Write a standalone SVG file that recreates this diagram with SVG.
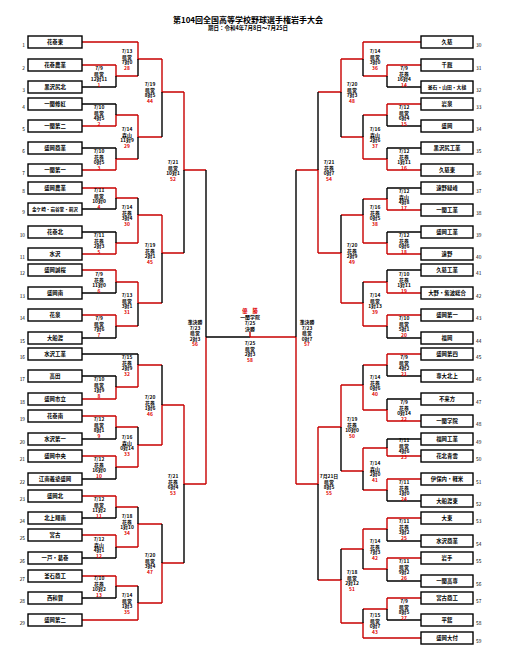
<svg xmlns="http://www.w3.org/2000/svg" width="509" height="662" viewBox="0 0 509 662">
<style>
text{font-family:"Noto Sans CJK JP","Noto Sans CJK SC",sans-serif;font-weight:bold;fill:#000}
.title{font-size:8px;text-anchor:middle}
.sub{font-size:5.5px;text-anchor:middle}
.box{fill:#fff;stroke:#000;stroke-width:1.4}
.tn{font-size:5.4px;text-anchor:middle}
.nl{font-size:4.8px;text-anchor:end;font-weight:normal}
.nr{font-size:4.8px;text-anchor:start;font-weight:normal}
.lb{font-size:4.9px;text-anchor:middle}
.gn{fill:#e00000}
.r{stroke:#c80000;stroke-width:1.4;fill:none}
.k{stroke:#000;stroke-width:1.4;fill:none}
</style>
<rect width="509" height="662" fill="#fff"/>
<text class="title" x="248" y="23">第104回全国高等学校野球選手権岩手大会</text>
<text class="sub" x="248" y="30">期日：令和4年7月8日～7月25日</text>

<g id="connectors">
<path class="r" d="M82 42H138M82 65H116M82 126H116M82 170H116M82 188H116M82 254H116M82 270H116M82 315H116M82 399H116M82 416H116M82 456H116M82 496H116M82 535H116M82 576H116M82 620H138"/>
<path class="k" d="M82 87H116M82 104H116M82 148H116M82 209H116M82 232H116M82 293H116M82 338H116M82 354H138M82 376H116M82 439H116M82 479H116M82 518H116M82 558H116M82 598H116"/>
<path class="r" d="M116 65V76H138M138 42V59H162M116 126V115H138M116 170V159H138M138 115V137H162M162 59V92H184M116 188V198H138M116 254V243H138M138 243V215H162M116 270V282H138M116 315V326H138M138 282V303H162M162 215V253H184M116 399V387H138M138 387V365H162M116 416V427H138M116 456V467H138M138 467V445H162M162 445V405H184M116 496V507H138M116 535V547H138M138 547V524H162M116 576V586H138M138 620V603H162M162 603V563H184M184 92V170H206M184 405V484H206M206 484V337"/>
<path class="k" d="M116 76V87M138 59V76M116 115V104M116 159V148M138 137V159M162 92V137M116 198V209M116 243V232M138 215V198M116 282V293M116 326V338M138 303V326M162 253V303M116 387V376M138 365V354M116 427V439M116 467V479M138 445V427M162 405V365M116 507V518M116 547V558M138 524V507M116 586V598M138 603V586M162 563V524M184 170V253M184 484V563M206 337V170M206 337H250"/>
<path class="r" d="M250 337H296M250 332V337"/>
<path class="r" d="M421 42H363M421 65H387M421 104H387M421 170H387M421 210H387M421 254H387M421 293H387M421 315H387M421 354H387M421 421H387M421 456H387M421 479H387M421 518H387M421 558H387M421 598H387M421 638H363"/>
<path class="k" d="M421 87H387M421 126H387M421 148H387M421 188H387M421 232H387M421 270H387M421 338H387M421 376H387M421 399H387M421 439H387M421 501H387M421 541H387M421 581H387M421 620H387"/>
<path class="r" d="M387 65V76H363M363 42V59H341M387 104V115H363M387 170V159H363M363 159V137H341M341 59V92H318M387 210V199H363M387 254V243H363M363 243V215H341M387 293V282H363M387 315V326H363M363 326V303H341M341 303V253H318M387 354V365H363M387 421V410H363M363 410V385H341M387 456V448H363M387 479V490H363M363 448V471H341M341 385V427H318M387 518V529H363M387 558V569H363M363 529V549H341M387 598V609H363M363 638V623H341M341 623V580H318M318 253V170H296M318 427V484H296M296 484V337"/>
<path class="k" d="M387 76V87M363 59V76M387 115V126M387 159V148M363 137V115M341 92V137M387 199V188M387 243V232M363 215V199M387 282V270M387 326V338M363 303V282M341 253V215M387 365V376M387 410V399M363 385V365M387 448V439M387 490V501M363 471V490M341 427V471M387 529V541M387 569V581M363 549V569M387 609V620M363 623V609M341 580V549M318 170V92M318 484V580M296 337V170"/>
</g>

<g id="teams-left">
<g id="t1"><rect class="box" x="28" y="36" width="54" height="12"/><text class="tn" x="55" y="44">花巻東</text><text class="nl" x="25" y="47">1</text></g>
<g id="t2"><rect class="box" x="28" y="59" width="54" height="12"/><text class="tn" x="55" y="67">花巻農業</text><text class="nl" x="25" y="70">2</text></g>
<g id="t3"><rect class="box" x="28" y="81" width="54" height="12"/><text class="tn" x="55" y="89">黒沢尻北</text><text class="nl" x="25" y="92">3</text></g>
<g id="t4"><rect class="box" x="28" y="98" width="54" height="12"/><text class="tn" x="55" y="106">一関修紅</text><text class="nl" x="25" y="109">4</text></g>
<g id="t5"><rect class="box" x="28" y="120" width="54" height="12"/><text class="tn" x="55" y="128">一関第二</text><text class="nl" x="25" y="131">5</text></g>
<g id="t6"><rect class="box" x="28" y="142" width="54" height="12"/><text class="tn" x="55" y="150">盛岡商業</text><text class="nl" x="25" y="153">6</text></g>
<g id="t7"><rect class="box" x="28" y="164" width="54" height="12"/><text class="tn" x="55" y="172">一関第一</text><text class="nl" x="25" y="175">7</text></g>
<g id="t8"><rect class="box" x="28" y="182" width="54" height="12"/><text class="tn" x="55" y="190">盛岡農業</text><text class="nl" x="25" y="193">8</text></g>
<g id="t9"><rect class="box" x="28" y="203" width="54" height="12"/><text class="tn" x="55" y="211" style="font-size:4.6px">金ケ崎・岩谷堂・前沢</text><text class="nl" x="25" y="214">9</text></g>
<g id="t10"><rect class="box" x="28" y="226" width="54" height="12"/><text class="tn" x="55" y="234">花巻北</text><text class="nl" x="25" y="237">10</text></g>
<g id="t11"><rect class="box" x="28" y="248" width="54" height="12"/><text class="tn" x="55" y="256">水沢</text><text class="nl" x="25" y="259">11</text></g>
<g id="t12"><rect class="box" x="28" y="264" width="54" height="12"/><text class="tn" x="55" y="272">盛岡誠桜</text><text class="nl" x="25" y="275">12</text></g>
<g id="t13"><rect class="box" x="28" y="287" width="54" height="12"/><text class="tn" x="55" y="295">盛岡南</text><text class="nl" x="25" y="298">13</text></g>
<g id="t14"><rect class="box" x="28" y="309" width="54" height="12"/><text class="tn" x="55" y="317">花泉</text><text class="nl" x="25" y="320">14</text></g>
<g id="t15"><rect class="box" x="28" y="332" width="54" height="12"/><text class="tn" x="55" y="340">大船渡</text><text class="nl" x="25" y="343">15</text></g>
<g id="t16"><rect class="box" x="28" y="348" width="54" height="12"/><text class="tn" x="55" y="356">水沢工業</text><text class="nl" x="25" y="359">16</text></g>
<g id="t17"><rect class="box" x="28" y="370" width="54" height="12"/><text class="tn" x="55" y="378">高田</text><text class="nl" x="25" y="381">17</text></g>
<g id="t18"><rect class="box" x="28" y="393" width="54" height="12"/><text class="tn" x="55" y="401">盛岡市立</text><text class="nl" x="25" y="404">18</text></g>
<g id="t19"><rect class="box" x="28" y="410" width="54" height="12"/><text class="tn" x="55" y="418">花巻南</text><text class="nl" x="25" y="421">19</text></g>
<g id="t20"><rect class="box" x="28" y="433" width="54" height="12"/><text class="tn" x="55" y="441">水沢第一</text><text class="nl" x="25" y="444">20</text></g>
<g id="t21"><rect class="box" x="28" y="450" width="54" height="12"/><text class="tn" x="55" y="458">盛岡中央</text><text class="nl" x="25" y="461">21</text></g>
<g id="t22"><rect class="box" x="28" y="473" width="54" height="12"/><text class="tn" x="55" y="481">江南義塾盛岡</text><text class="nl" x="25" y="484">22</text></g>
<g id="t23"><rect class="box" x="28" y="490" width="54" height="12"/><text class="tn" x="55" y="498">盛岡北</text><text class="nl" x="25" y="501">23</text></g>
<g id="t24"><rect class="box" x="28" y="512" width="54" height="12"/><text class="tn" x="55" y="520">北上翔南</text><text class="nl" x="25" y="523">24</text></g>
<g id="t25"><rect class="box" x="28" y="529" width="54" height="12"/><text class="tn" x="55" y="537">宮古</text><text class="nl" x="25" y="540">25</text></g>
<g id="t26"><rect class="box" x="28" y="552" width="54" height="12"/><text class="tn" x="55" y="560">一戸・葛巻</text><text class="nl" x="25" y="563">26</text></g>
<g id="t27"><rect class="box" x="28" y="570" width="54" height="12"/><text class="tn" x="55" y="578">釜石商工</text><text class="nl" x="25" y="581">27</text></g>
<g id="t28"><rect class="box" x="28" y="592" width="54" height="12"/><text class="tn" x="55" y="600">西和賀</text><text class="nl" x="25" y="603">28</text></g>
<g id="t29"><rect class="box" x="28" y="614" width="54" height="12"/><text class="tn" x="55" y="622">盛岡第二</text><text class="nl" x="25" y="625">29</text></g>
</g>

<g id="teams-right">
<g id="t30"><rect class="box" x="421" y="36" width="52" height="12"/><text class="tn" x="447" y="44">久慈</text><text class="nr" x="476" y="47">30</text></g>
<g id="t31"><rect class="box" x="421" y="59" width="52" height="12"/><text class="tn" x="447" y="67">千厩</text><text class="nr" x="476" y="70">31</text></g>
<g id="t32"><rect class="box" x="421" y="81" width="52" height="12"/><text class="tn" x="447" y="89" style="font-size:4.8px">釜石・山田・大槌</text><text class="nr" x="476" y="92">32</text></g>
<g id="t33"><rect class="box" x="421" y="98" width="52" height="12"/><text class="tn" x="447" y="106">岩泉</text><text class="nr" x="476" y="109">33</text></g>
<g id="t34"><rect class="box" x="421" y="120" width="52" height="12"/><text class="tn" x="447" y="128">盛岡</text><text class="nr" x="476" y="131">34</text></g>
<g id="t35"><rect class="box" x="421" y="142" width="52" height="12"/><text class="tn" x="447" y="150">黒沢尻工業</text><text class="nr" x="476" y="153">35</text></g>
<g id="t36"><rect class="box" x="421" y="164" width="52" height="12"/><text class="tn" x="447" y="172">久慈東</text><text class="nr" x="476" y="175">36</text></g>
<g id="t37"><rect class="box" x="421" y="182" width="52" height="12"/><text class="tn" x="447" y="190">遠野緑峰</text><text class="nr" x="476" y="193">37</text></g>
<g id="t38"><rect class="box" x="421" y="204" width="52" height="12"/><text class="tn" x="447" y="212">一関工業</text><text class="nr" x="476" y="215">38</text></g>
<g id="t39"><rect class="box" x="421" y="226" width="52" height="12"/><text class="tn" x="447" y="234">盛岡工業</text><text class="nr" x="476" y="237">39</text></g>
<g id="t40"><rect class="box" x="421" y="248" width="52" height="12"/><text class="tn" x="447" y="256">遠野</text><text class="nr" x="476" y="259">40</text></g>
<g id="t41"><rect class="box" x="421" y="264" width="52" height="12"/><text class="tn" x="447" y="272">久慈工業</text><text class="nr" x="476" y="275">41</text></g>
<g id="t42"><rect class="box" x="421" y="287" width="52" height="12"/><text class="tn" x="447" y="295">大野・紫波総合</text><text class="nr" x="476" y="298">42</text></g>
<g id="t43"><rect class="box" x="421" y="309" width="52" height="12"/><text class="tn" x="447" y="317">盛岡第一</text><text class="nr" x="476" y="320">43</text></g>
<g id="t44"><rect class="box" x="421" y="332" width="52" height="12"/><text class="tn" x="447" y="340">福岡</text><text class="nr" x="476" y="343">44</text></g>
<g id="t45"><rect class="box" x="421" y="348" width="52" height="12"/><text class="tn" x="447" y="356">盛岡第四</text><text class="nr" x="476" y="359">45</text></g>
<g id="t46"><rect class="box" x="421" y="370" width="52" height="12"/><text class="tn" x="447" y="378">専大北上</text><text class="nr" x="476" y="381">46</text></g>
<g id="t47"><rect class="box" x="421" y="393" width="52" height="12"/><text class="tn" x="447" y="401">不来方</text><text class="nr" x="476" y="404">47</text></g>
<g id="t48"><rect class="box" x="421" y="415" width="52" height="12"/><text class="tn" x="447" y="423">一関学院</text><text class="nr" x="476" y="426">48</text></g>
<g id="t49"><rect class="box" x="421" y="433" width="52" height="12"/><text class="tn" x="447" y="441">福岡工業</text><text class="nr" x="476" y="444">49</text></g>
<g id="t50"><rect class="box" x="421" y="450" width="52" height="12"/><text class="tn" x="447" y="458">花北青雲</text><text class="nr" x="476" y="461">50</text></g>
<g id="t51"><rect class="box" x="421" y="473" width="52" height="12"/><text class="tn" x="447" y="481">伊保内・軽米</text><text class="nr" x="476" y="484">51</text></g>
<g id="t52"><rect class="box" x="421" y="495" width="52" height="12"/><text class="tn" x="447" y="503">大船渡東</text><text class="nr" x="476" y="506">52</text></g>
<g id="t53"><rect class="box" x="421" y="512" width="52" height="12"/><text class="tn" x="447" y="520">大東</text><text class="nr" x="476" y="523">53</text></g>
<g id="t54"><rect class="box" x="421" y="535" width="52" height="12"/><text class="tn" x="447" y="543">水沢商業</text><text class="nr" x="476" y="546">54</text></g>
<g id="t55"><rect class="box" x="421" y="552" width="52" height="12"/><text class="tn" x="447" y="560">岩手</text><text class="nr" x="476" y="563">55</text></g>
<g id="t56"><rect class="box" x="421" y="575" width="52" height="12"/><text class="tn" x="447" y="583">一関高専</text><text class="nr" x="476" y="586">56</text></g>
<g id="t57"><rect class="box" x="421" y="592" width="52" height="12"/><text class="tn" x="447" y="600">宮古商工</text><text class="nr" x="476" y="603">57</text></g>
<g id="t58"><rect class="box" x="421" y="614" width="52" height="12"/><text class="tn" x="447" y="622">平舘</text><text class="nr" x="476" y="625">58</text></g>
<g id="t59"><rect class="box" x="421" y="632" width="52" height="12"/><text class="tn" x="447" y="640">盛岡大付</text><text class="nr" x="476" y="643">59</text></g>
</g>

<g id="match-labels">
<text class="lb" x="99" y="70"><tspan x="99">7/9</tspan><tspan x="99" dy="5.5">県営</tspan><tspan x="99" dy="5.5">12対11</tspan><tspan x="99" dy="5.5" class="gn">1</tspan></text>
<text class="lb" x="127" y="53"><tspan x="127">7/13</tspan><tspan x="127" dy="5.5">県営</tspan><tspan x="127" dy="5.5">7対0</tspan><tspan x="127" dy="5.5" class="gn">28</tspan></text>
<text class="lb" x="99" y="109"><tspan x="99">7/10</tspan><tspan x="99" dy="5.5">県営</tspan><tspan x="99" dy="5.5">4対5</tspan><tspan x="99" dy="5.5" class="gn">2</tspan></text>
<text class="lb" x="99" y="153"><tspan x="99">7/10</tspan><tspan x="99" dy="5.5">花巻</tspan><tspan x="99" dy="5.5">0対5</tspan><tspan x="99" dy="5.5" class="gn">3</tspan></text>
<text class="lb" x="127" y="131"><tspan x="127">7/14</tspan><tspan x="127" dy="5.5">森山</tspan><tspan x="127" dy="5.5">11対9</tspan><tspan x="127" dy="5.5" class="gn">29</tspan></text>
<text class="lb" x="150" y="86"><tspan x="150">7/19</tspan><tspan x="150" dy="5.5">県営</tspan><tspan x="150" dy="5.5">8対5</tspan><tspan x="150" dy="5.5" class="gn">44</tspan></text>
<text class="lb" x="99" y="192"><tspan x="99">7/11</tspan><tspan x="99" dy="5.5">県営</tspan><tspan x="99" dy="5.5">10対0</tspan><tspan x="99" dy="5.5" class="gn">4</tspan></text>
<text class="lb" x="99" y="237"><tspan x="99">7/11</tspan><tspan x="99" dy="5.5">花巻</tspan><tspan x="99" dy="5.5">2対3</tspan><tspan x="99" dy="5.5" class="gn">5</tspan></text>
<text class="lb" x="127" y="209"><tspan x="127">7/14</tspan><tspan x="127" dy="5.5">花巻</tspan><tspan x="127" dy="5.5">3対4</tspan><tspan x="127" dy="5.5" class="gn">30</tspan></text>
<text class="lb" x="99" y="276"><tspan x="99">7/9</tspan><tspan x="99" dy="5.5">花巻</tspan><tspan x="99" dy="5.5">11対0</tspan><tspan x="99" dy="5.5" class="gn">6</tspan></text>
<text class="lb" x="99" y="320"><tspan x="99">7/9</tspan><tspan x="99" dy="5.5">県営</tspan><tspan x="99" dy="5.5">7対6</tspan><tspan x="99" dy="5.5" class="gn">7</tspan></text>
<text class="lb" x="127" y="297"><tspan x="127">7/13</tspan><tspan x="127" dy="5.5">県営</tspan><tspan x="127" dy="5.5">3対1</tspan><tspan x="127" dy="5.5" class="gn">31</tspan></text>
<text class="lb" x="150" y="247"><tspan x="150">7/19</tspan><tspan x="150" dy="5.5">花巻</tspan><tspan x="150" dy="5.5">2対1</tspan><tspan x="150" dy="5.5" class="gn">45</tspan></text>
<text class="lb" x="99" y="381"><tspan x="99">7/10</tspan><tspan x="99" dy="5.5">県営</tspan><tspan x="99" dy="5.5">1対9</tspan><tspan x="99" dy="5.5" class="gn">8</tspan></text>
<text class="lb" x="127" y="359"><tspan x="127">7/15</tspan><tspan x="127" dy="5.5">花巻</tspan><tspan x="127" dy="5.5">2対9</tspan><tspan x="127" dy="5.5" class="gn">32</tspan></text>
<text class="lb" x="99" y="421"><tspan x="99">7/12</tspan><tspan x="99" dy="5.5">県営</tspan><tspan x="99" dy="5.5">8対1</tspan><tspan x="99" dy="5.5" class="gn">9</tspan></text>
<text class="lb" x="99" y="461"><tspan x="99">7/12</tspan><tspan x="99" dy="5.5">花巻</tspan><tspan x="99" dy="5.5">16対0</tspan><tspan x="99" dy="5.5" class="gn">10</tspan></text>
<text class="lb" x="127" y="439"><tspan x="127">7/16</tspan><tspan x="127" dy="5.5">森山</tspan><tspan x="127" dy="5.5">0対14</tspan><tspan x="127" dy="5.5" class="gn">33</tspan></text>
<text class="lb" x="150" y="399"><tspan x="150">7/20</tspan><tspan x="150" dy="5.5">花巻</tspan><tspan x="150" dy="5.5">1対6</tspan><tspan x="150" dy="5.5" class="gn">46</tspan></text>
<text class="lb" x="99" y="501"><tspan x="99">7/12</tspan><tspan x="99" dy="5.5">県営</tspan><tspan x="99" dy="5.5">11対2</tspan><tspan x="99" dy="5.5" class="gn">11</tspan></text>
<text class="lb" x="99" y="541"><tspan x="99">7/12</tspan><tspan x="99" dy="5.5">森山</tspan><tspan x="99" dy="5.5">4対1</tspan><tspan x="99" dy="5.5" class="gn">12</tspan></text>
<text class="lb" x="127" y="518"><tspan x="127">7/18</tspan><tspan x="127" dy="5.5">花巻</tspan><tspan x="127" dy="5.5">1対10</tspan><tspan x="127" dy="5.5" class="gn">34</tspan></text>
<text class="lb" x="99" y="580"><tspan x="99">7/10</tspan><tspan x="99" dy="5.5">花巻</tspan><tspan x="99" dy="5.5">10対2</tspan><tspan x="99" dy="5.5" class="gn">13</tspan></text>
<text class="lb" x="127" y="597"><tspan x="127">7/14</tspan><tspan x="127" dy="5.5">県営</tspan><tspan x="127" dy="5.5">1対3</tspan><tspan x="127" dy="5.5" class="gn">35</tspan></text>
<text class="lb" x="150" y="557"><tspan x="150">7/20</tspan><tspan x="150" dy="5.5">県営</tspan><tspan x="150" dy="5.5">3対4</tspan><tspan x="150" dy="5.5" class="gn">47</tspan></text>
<text class="lb" x="173" y="164"><tspan x="173">7/21</tspan><tspan x="173" dy="5.5">県営</tspan><tspan x="173" dy="5.5">10対1</tspan><tspan x="173" dy="5.5" class="gn">52</tspan></text>
<text class="lb" x="173" y="478"><tspan x="173">7/21</tspan><tspan x="173" dy="5.5">花巻</tspan><tspan x="173" dy="5.5">6対4</tspan><tspan x="173" dy="5.5" class="gn">53</tspan></text>
<text class="lb" x="195" y="324"><tspan x="195">準決勝</tspan><tspan x="195" dy="5.5">7/23</tspan><tspan x="195" dy="5.5">県営</tspan><tspan x="195" dy="5.5">2対3</tspan><tspan x="195" dy="5.5" class="gn">56</tspan></text>

<text class="lb" x="404" y="70"><tspan x="404">7/9</tspan><tspan x="404" dy="5.5">花巻</tspan><tspan x="404" dy="5.5">16対4</tspan><tspan x="404" dy="5.5" class="gn">14</tspan></text>
<text class="lb" x="375" y="53"><tspan x="375">7/14</tspan><tspan x="375" dy="5.5">県営</tspan><tspan x="375" dy="5.5">3対0</tspan><tspan x="375" dy="5.5" class="gn">36</tspan></text>
<text class="lb" x="404" y="109"><tspan x="404">7/12</tspan><tspan x="404" dy="5.5">県営</tspan><tspan x="404" dy="5.5">6対4</tspan><tspan x="404" dy="5.5" class="gn">15</tspan></text>
<text class="lb" x="404" y="153"><tspan x="404">7/12</tspan><tspan x="404" dy="5.5">花巻</tspan><tspan x="404" dy="5.5">1対11</tspan><tspan x="404" dy="5.5" class="gn">16</tspan></text>
<text class="lb" x="375" y="131"><tspan x="375">7/16</tspan><tspan x="375" dy="5.5">森山</tspan><tspan x="375" dy="5.5">2対6</tspan><tspan x="375" dy="5.5" class="gn">37</tspan></text>
<text class="lb" x="352" y="86"><tspan x="352">7/20</tspan><tspan x="352" dy="5.5">県営</tspan><tspan x="352" dy="5.5">7対3</tspan><tspan x="352" dy="5.5" class="gn">48</tspan></text>
<text class="lb" x="404" y="193"><tspan x="404">7/12</tspan><tspan x="404" dy="5.5">森山</tspan><tspan x="404" dy="5.5">4対8</tspan><tspan x="404" dy="5.5" class="gn">17</tspan></text>
<text class="lb" x="404" y="237"><tspan x="404">7/12</tspan><tspan x="404" dy="5.5">花巻</tspan><tspan x="404" dy="5.5">0対6</tspan><tspan x="404" dy="5.5" class="gn">18</tspan></text>
<text class="lb" x="375" y="209"><tspan x="375">7/16</tspan><tspan x="375" dy="5.5">花巻</tspan><tspan x="375" dy="5.5">0対5</tspan><tspan x="375" dy="5.5" class="gn">38</tspan></text>
<text class="lb" x="404" y="276"><tspan x="404">7/10</tspan><tspan x="404" dy="5.5">花巻</tspan><tspan x="404" dy="5.5">1対11</tspan><tspan x="404" dy="5.5" class="gn">19</tspan></text>
<text class="lb" x="404" y="320"><tspan x="404">7/10</tspan><tspan x="404" dy="5.5">県営</tspan><tspan x="404" dy="5.5">5対1</tspan><tspan x="404" dy="5.5" class="gn">20</tspan></text>
<text class="lb" x="375" y="297"><tspan x="375">7/14</tspan><tspan x="375" dy="5.5">県営</tspan><tspan x="375" dy="5.5">1対13</tspan><tspan x="375" dy="5.5" class="gn">39</tspan></text>
<text class="lb" x="352" y="247"><tspan x="352">7/20</tspan><tspan x="352" dy="5.5">花巻</tspan><tspan x="352" dy="5.5">2対9</tspan><tspan x="352" dy="5.5" class="gn">49</tspan></text>
<text class="lb" x="404" y="359"><tspan x="404">7/9</tspan><tspan x="404" dy="5.5">県営</tspan><tspan x="404" dy="5.5">4対2</tspan><tspan x="404" dy="5.5" class="gn">21</tspan></text>
<text class="lb" x="404" y="404"><tspan x="404">7/9</tspan><tspan x="404" dy="5.5">花巻</tspan><tspan x="404" dy="5.5">0対14</tspan><tspan x="404" dy="5.5" class="gn">22</tspan></text>
<text class="lb" x="375" y="379"><tspan x="375">7/14</tspan><tspan x="375" dy="5.5">花巻</tspan><tspan x="375" dy="5.5">0対6</tspan><tspan x="375" dy="5.5" class="gn">40</tspan></text>
<text class="lb" x="404" y="442"><tspan x="404">7/11</tspan><tspan x="404" dy="5.5">県営</tspan><tspan x="404" dy="5.5">4対6</tspan><tspan x="404" dy="5.5" class="gn">23</tspan></text>
<text class="lb" x="404" y="484"><tspan x="404">7/11</tspan><tspan x="404" dy="5.5">花巻</tspan><tspan x="404" dy="5.5">1対0</tspan><tspan x="404" dy="5.5" class="gn">24</tspan></text>
<text class="lb" x="375" y="465"><tspan x="375">7/14</tspan><tspan x="375" dy="5.5">森山</tspan><tspan x="375" dy="5.5">2対0</tspan><tspan x="375" dy="5.5" class="gn">41</tspan></text>
<text class="lb" x="352" y="421"><tspan x="352">7/19</tspan><tspan x="352" dy="5.5">花巻</tspan><tspan x="352" dy="5.5">10対0</tspan><tspan x="352" dy="5.5" class="gn">50</tspan></text>
<text class="lb" x="404" y="523"><tspan x="404">7/11</tspan><tspan x="404" dy="5.5">花巻</tspan><tspan x="404" dy="5.5">3対2</tspan><tspan x="404" dy="5.5" class="gn">25</tspan></text>
<text class="lb" x="404" y="563"><tspan x="404">7/11</tspan><tspan x="404" dy="5.5">県営</tspan><tspan x="404" dy="5.5">9対2</tspan><tspan x="404" dy="5.5" class="gn">26</tspan></text>
<text class="lb" x="375" y="543"><tspan x="375">7/14</tspan><tspan x="375" dy="5.5">花巻</tspan><tspan x="375" dy="5.5">7対3</tspan><tspan x="375" dy="5.5" class="gn">42</tspan></text>
<text class="lb" x="404" y="603"><tspan x="404">7/9</tspan><tspan x="404" dy="5.5">県営</tspan><tspan x="404" dy="5.5">8対5</tspan><tspan x="404" dy="5.5" class="gn">27</tspan></text>
<text class="lb" x="375" y="617"><tspan x="375">7/15</tspan><tspan x="375" dy="5.5">県営</tspan><tspan x="375" dy="5.5">0対7</tspan><tspan x="375" dy="5.5" class="gn">43</tspan></text>
<text class="lb" x="352" y="574"><tspan x="352">7/18</tspan><tspan x="352" dy="5.5">県営</tspan><tspan x="352" dy="5.5">2対12</tspan><tspan x="352" dy="5.5" class="gn">51</tspan></text>
<text class="lb" x="329" y="164"><tspan x="329">7/21</tspan><tspan x="329" dy="5.5">花巻</tspan><tspan x="329" dy="5.5">0対7</tspan><tspan x="329" dy="5.5" class="gn">54</tspan></text>
<text class="lb" x="329" y="478"><tspan x="329">7月21日</tspan><tspan x="329" dy="5.5">県営</tspan><tspan x="329" dy="5.5">8対5</tspan><tspan x="329" dy="5.5" class="gn">55</tspan></text>
<text class="lb" x="307" y="324"><tspan x="307">準決勝</tspan><tspan x="307" dy="5.5">7/23</tspan><tspan x="307" dy="5.5">県営</tspan><tspan x="307" dy="5.5">0対7</tspan><tspan x="307" dy="5.5" class="gn">57</tspan></text>

<text class="lb gn" x="250" y="312.5" style="font-size:5.2px">優　勝</text>
<text class="lb" x="250" y="319">一関学院</text>
<text class="lb" x="250" y="325">7/25</text>
<text class="lb" x="250" y="330.5">決勝</text>
<text class="lb" x="250" y="345"><tspan x="250">7/25</tspan><tspan x="250" dy="5.5">県営</tspan><tspan x="250" dy="5.5">2対3</tspan><tspan x="250" dy="5.5" class="gn">58</tspan></text>
</g>
</svg>
